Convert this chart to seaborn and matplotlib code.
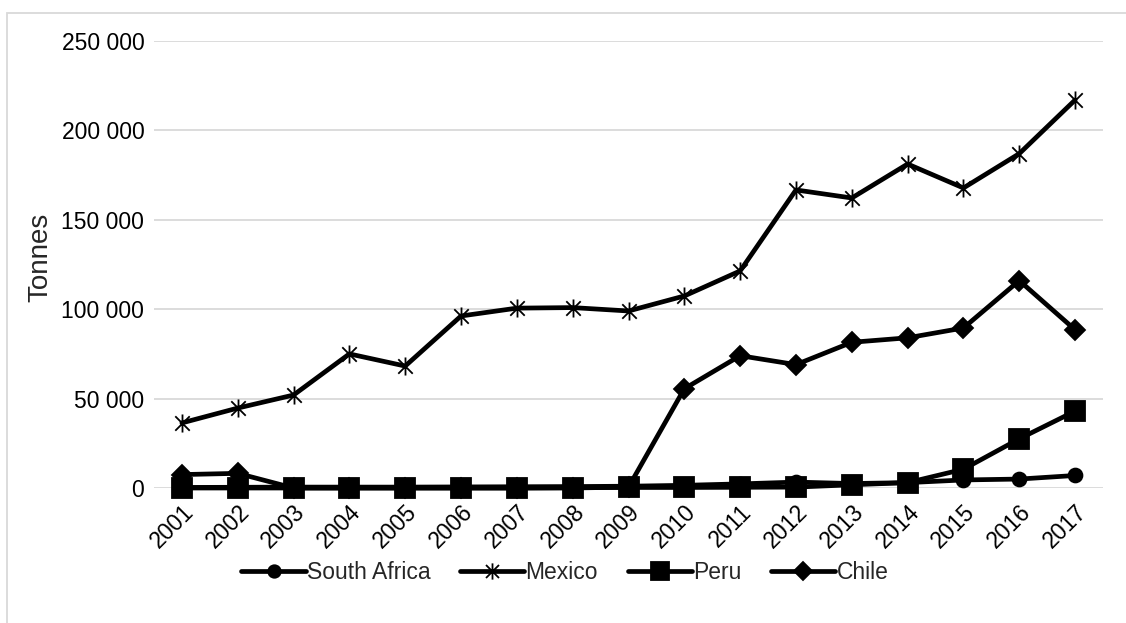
import numpy as np
import pandas as pd
import matplotlib
matplotlib.use("Agg")
import matplotlib.pyplot as plt
from matplotlib.path import Path
from matplotlib.patches import Rectangle
from matplotlib.ticker import FuncFormatter
import seaborn as sns

years = list(range(2001, 2018))
south_africa = [300, 400, 500, 500, 500, 600, 700, 800, 1000, 1500, 2300, 3300, 2500, 3000, 4500, 5000, 7000]
mexico = [36400, 44700, 52000, 75000, 68200, 96200, 100600, 100900, 99000, 107400, 121400,
          166700, 162200, 181200, 167800, 187000, 217000]
peru = [0, 0, 0, 0, 0, 0, 0, 200, 300, 300, 400, 500, 1800, 3000, 10500, 27500, 43000]
chile = [7500, 8200, 0, 0, 0, 0, 0, 0, 500, 55500, 74000, 69000, 81500, 84000, 89500, 116000, 88500]
series = ["South Africa", "Mexico", "Peru", "Chile"]

df = pd.DataFrame({
    "Year": years * 4,
    "Tonnes": south_africa + mexico + peru + chile,
    "Country": sum([[s] * len(years) for s in series], []),
})

sns.set_theme(style="white")
plt.rcParams["font.family"] = ["Liberation Sans", "DejaVu Sans"]

# Excel-style asterisk marker: an x with a vertical stroke
star = Path(
    [(-1, -1), (1, 1), (-1, 1), (1, -1), (0, -1.25), (0, 1.25)],
    [Path.MOVETO, Path.LINETO, Path.MOVETO, Path.LINETO, Path.MOVETO, Path.LINETO],
)
markers = {"South Africa": "o", "Mexico": star, "Peru": "s", "Chile": "D"}
sizes = {"South Africa": 10, "Mexico": 13, "Peru": 14, "Chile": 10}

fig = plt.figure(figsize=(11.26, 6.23), dpi=100)
ax = fig.add_axes([154 / 1126, 1 - 488 / 623, (1103 - 154) / 1126, (488 - 41) / 623])

for name in series:
    sub = df[df["Country"] == name]
    sns.lineplot(data=sub, x="Year", y="Tonnes", ax=ax, color="black", linewidth=3.4,
                 marker=markers[name], markersize=sizes[name], markeredgewidth=1.3,
                 markeredgecolor="black", markerfacecolor="black",
                 label=name, clip_on=False, zorder=3)

ax.set_xlim(2000.5, 2017.5)
ax.set_ylim(0, 250000)
ax.set_yticks(range(0, 250001, 50000))
ax.yaxis.set_major_formatter(FuncFormatter(lambda v, p: f"{int(v):,}".replace(",", " ")))
ax.set_xticks(years)
ax.set_xticklabels([str(y) for y in years], rotation=45, ha="right", rotation_mode="anchor")
ax.tick_params(axis="both", labelsize=16.5, length=0, colors="black")
ax.tick_params(axis="y", pad=7)
ax.tick_params(axis="x", pad=9)
ax.grid(axis="y", color="#d9d9d9", linewidth=1.3)
ax.set_axisbelow(True)
for s in ax.spines.values():
    s.set_visible(False)
ax.set_xlabel("")
ax.set_ylabel("Tonnes", fontsize=20)
ax.yaxis.set_label_coords(-0.106, 0.517)

leg = ax.legend(loc="center", bbox_to_anchor=(0.433, -0.19), ncol=4, frameon=False,
                fontsize=16.5, handlelength=2.8, handletextpad=0.05, columnspacing=1.3,
                markerscale=0.9)

fig.patches.append(Rectangle((7 / 1126, -0.1), 1.2, 1 - 13 / 623 + 0.1, transform=fig.transFigure,
                             fill=False, edgecolor="#d9d9d9", linewidth=1.3, zorder=0))

fig.savefig("out.png", dpi=100)
